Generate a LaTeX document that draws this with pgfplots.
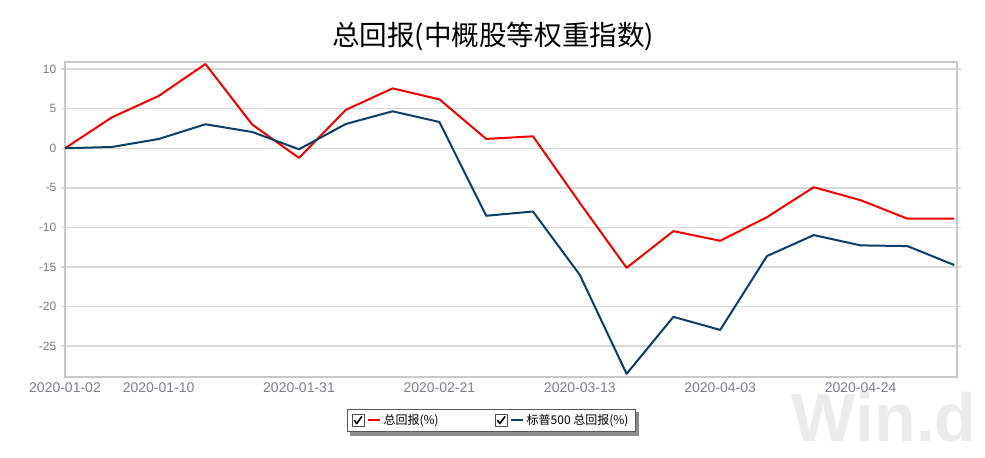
\documentclass[border=0pt]{standalone}
\usepackage{fontspec}
\setmainfont{Liberation Sans}
\newfontfamily\cjk{Noto Sans CJK SC}
\usepackage{pgfplots}
\pgfplotsset{compat=1.18}

\definecolor{zred}{RGB}{240,0,0}
\definecolor{zblue}{RGB}{10,62,100}
\definecolor{tickgray}{RGB}{125,125,140}
\definecolor{framegray}{RGB}{200,200,200}
\definecolor{gridgray}{RGB}{217,217,217}

\begin{document}
\begin{tikzpicture}
% watermark, behind everything
\node[anchor=base west, inner sep=0pt, text=black!8, font=\bfseries\fontsize{51}{51}\selectfont]
  at (545pt,-48pt) {Win.d};
\begin{axis}[
  scale only axis,
  width=669pt, height=236.25pt,
  xmin=0, xmax=19.06,
  ymin=-28.9, ymax=10.9,
  xtick={0,2,5,8,11,14,17},
  xticklabels={2020-01-02,2020-01-10,2020-01-31,2020-02-21,2020-03-13,2020-04-03,2020-04-24},
  ytick={-25,-20,...,10},
  ymajorgrids,
  grid style={gridgray, line width=1pt},
  axis line style={framegray, line width=1.5pt},
  x tick style={draw=none},
  y tick style={gridgray, line width=1pt},
  tick align=outside,
  major tick length=3pt,
  /pgf/number format/assume math mode=true,
  yticklabel style={font=\fontsize{9}{11}\selectfont, text=tickgray},
  xticklabel style={font=\fontsize{10.5}{12}\selectfont, text=tickgray, yshift=2pt},
  title={总回报(中概股等权重指数)},
  title style={at={(0.48,1)}, anchor=center, yshift=13pt, font=\cjk\fontsize{20.7}{24}\selectfont},
  legend columns=2,
  legend style={name=lgd, at={(0.478,-0.1)}, anchor=north, draw=black!65, line width=0.8pt,
    fill=white, font=\cjk\fontsize{9}{11}\selectfont, inner xsep=3pt, inner ysep=2pt,
    /tikz/every even column/.append style={column sep=40pt}},
  legend cell align=left,
  legend image code/.code={
    \draw[black!70, fill=white, line width=0.5pt, solid] (0pt,-4.5pt) rectangle (9pt,4.5pt);
    \draw[black, line width=1.2pt, solid] (1.8pt,0.3pt) -- (3.6pt,-2.4pt) -- (7.5pt,3pt);
    \draw[#1] (12pt,0pt) -- (21pt,0pt);
  },
]
% 总回报
\addplot[zred, line width=1.5pt, line join=round] coordinates {
  (0,0) (1,3.9) (2,6.6) (3,10.65) (4,3.0) (5,-1.22) (6,4.85) (7,7.57)
  (8,6.18) (9,1.18) (10,1.51) (11,-6.9) (12,-15.1) (13,-10.47) (14,-11.69)
  (15,-8.7) (16,-4.92) (17,-6.56) (18,-8.9) (19,-8.9)
};
% 标普500 总回报
\addplot[zblue, line width=1.5pt, line join=round] coordinates {
  (0,0) (1,0.16) (2,1.17) (3,3.03) (4,2.06) (5,-0.13) (6,3.07) (7,4.67)
  (8,3.32) (9,-8.53) (10,-7.99) (11,-16.0) (12,-28.5) (13,-21.3) (14,-22.95)
  (15,-13.62) (16,-10.97) (17,-12.27) (18,-12.36) (19,-14.75)
};
\legend{总回报(\%), 标普500 总回报(\%)}
\end{axis}
% legend shadow
\fill[black!45] ([yshift=-2.5pt]lgd.north east) rectangle ([xshift=2.5pt,yshift=-2.5pt]lgd.south east);
\fill[black!45] ([xshift=2.5pt]lgd.south west) rectangle ([xshift=2.5pt,yshift=-2.5pt]lgd.south east);
\pgfresetboundingbox
\useasboundingbox (-48.75pt,-60pt) rectangle (690pt,282.75pt);
\end{tikzpicture}
\end{document}
